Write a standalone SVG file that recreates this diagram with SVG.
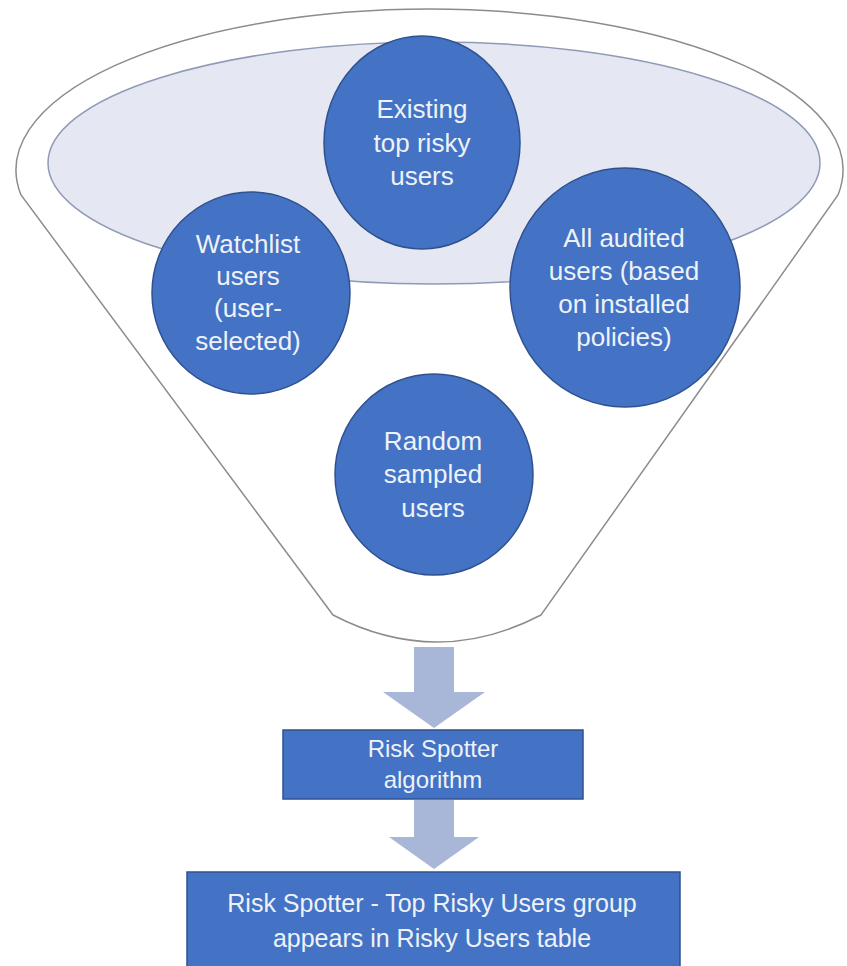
<svg xmlns="http://www.w3.org/2000/svg" width="847" height="966" viewBox="0 0 847 966">
<style>
.node{fill:#4472C4;stroke:#2F528F;stroke-width:1.5}
.lbl{font-family:"Liberation Sans",Arial,sans-serif;fill:#EEF2F8;text-anchor:middle}
.c{font-size:26px}
.b{font-size:24px}
.arrow{fill:#A8B6D8}
</style>
<rect width="847" height="966" fill="#ffffff"/>
<g id="funnel">
<path d="M333,615 L21,195 A413.5,161 0 1 1 838,195 L541,615 Q437,669 333,615 Z" fill="#ffffff" stroke="#8C8C8C" stroke-width="1.5"/>
<ellipse cx="434" cy="163" rx="386" ry="121" fill="#E5E8F3" stroke="#8F9AB6" stroke-width="1.5"/>
</g>
<g id="existing">
<ellipse class="node" cx="422" cy="142.5" rx="98" ry="106.5"/>
<text class="lbl c" x="422" y="118">Existing</text>
<text class="lbl c" x="422" y="152">top risky</text>
<text class="lbl c" x="422" y="185">users</text>
</g>
<g id="watchlist">
<ellipse class="node" cx="251" cy="293" rx="99" ry="101"/>
<text class="lbl c" x="248" y="253">Watchlist</text>
<text class="lbl c" x="248" y="285">users</text>
<text class="lbl c" x="248" y="317">(user-</text>
<text class="lbl c" x="248" y="350">selected)</text>
</g>
<g id="audited">
<ellipse class="node" cx="625" cy="287.5" rx="115" ry="119.5"/>
<text class="lbl c" x="624" y="247">All audited</text>
<text class="lbl c" x="624" y="280">users (based</text>
<text class="lbl c" x="624" y="313">on installed</text>
<text class="lbl c" x="624" y="346">policies)</text>
</g>
<g id="random">
<ellipse class="node" cx="434" cy="474.5" rx="99" ry="100.5"/>
<text class="lbl c" x="433" y="450">Random</text>
<text class="lbl c" x="433" y="483">sampled</text>
<text class="lbl c" x="433" y="517">users</text>
</g>
<g id="connectors">
<path class="arrow" d="M414,647 L454,647 L454,692 L485,692 L434,728 L383,692 L414,692 Z"/>
<path class="arrow" d="M414,800 L454,800 L454,837 L479,837 L434,869 L389,837 L414,837 Z"/>
</g>
<g id="algorithm">
<rect class="node" x="283" y="730" width="300" height="69" stroke="#5B7FC4"/>
<text class="lbl b" x="433" y="757">Risk Spotter</text>
<text class="lbl b" x="433" y="788">algorithm</text>
</g>
<g id="result">
<rect class="node" x="187" y="872" width="493" height="100"/>
<text class="lbl" font-size="25" x="432" y="912">Risk Spotter - Top Risky Users group</text>
<text class="lbl" font-size="25" x="432" y="947">appears in Risky Users table</text>
</g>
</svg>
